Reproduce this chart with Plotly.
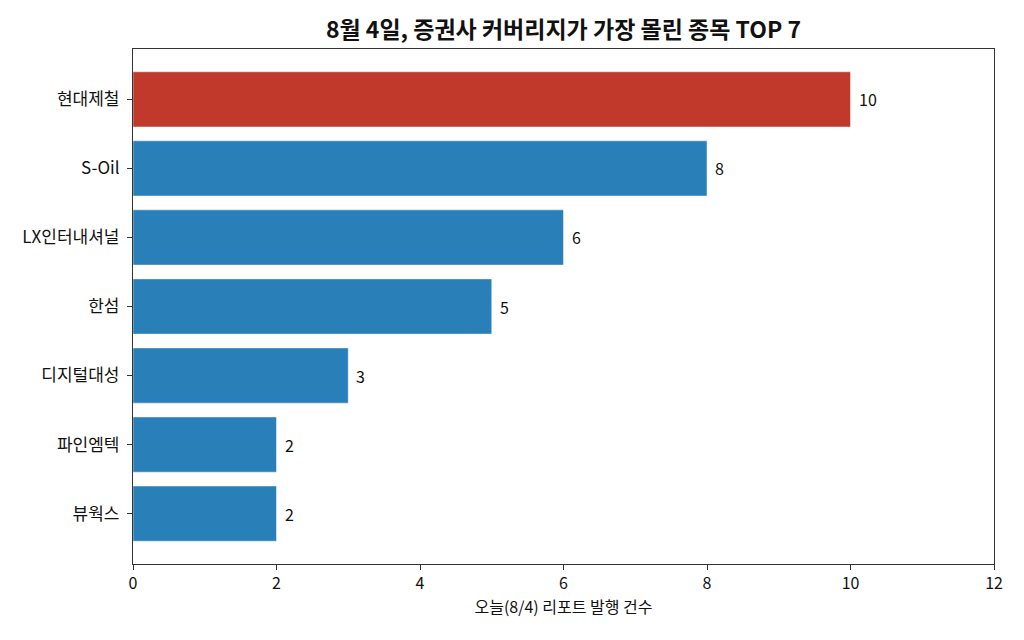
import plotly.graph_objects as go

# data
stocks = ['현대제철', 'S-Oil', 'LX인터내셔널', '한섬', '디지털대성', '파인엠텍', '뷰웍스']
counts = [10, 8, 6, 5, 3, 2, 2]
bar_colors = ['#c0392b'] + ['#2980b9'] * 6

fig = go.Figure()
fig.add_trace(go.Bar(
    y=list(range(len(stocks))), x=counts, orientation='h',
    width=0.8,
    marker=dict(color=bar_colors, line=dict(color='rgba(255,255,255,0.6)', width=0.8)),
    showlegend=False,
))

# value labels next to the bar ends
for i, c in enumerate(counts):
    fig.add_annotation(x=c, y=i, text=str(c), showarrow=False,
                       xanchor='left', yanchor='middle', xshift=6,
                       font=dict(size=16, color='#111'))

fig.update_layout(
    width=1024, height=640,
    margin=dict(l=125, r=38, t=41, b=84),
    paper_bgcolor='white', plot_bgcolor='white',
    font=dict(family='Noto Sans CJK KR', size=16, color='#111'),
    title=dict(text='<b>8월 4일, 증권사 커버리지가 가장 몰린 종목 TOP 7</b>',
               x=0.5, xref='paper', xanchor='center', y=0.966, yanchor='middle',
               font=dict(size=23, color='#111')),
)

fig.update_xaxes(
    range=[0, 12], tickvals=[0, 2, 4, 6, 8, 10, 12],
    showgrid=False, zeroline=False,
    showline=True, linecolor='#333', linewidth=1.2, mirror=True,
    ticks='outside', ticklen=5, tickcolor='#333',
    tickfont=dict(size=16),
    title=dict(text='오늘(8/4) 리포트 발행 건수', font=dict(size=16), standoff=6),
)
fig.update_yaxes(
    range=[6.73, -0.73], tickvals=list(range(len(stocks))), ticktext=stocks,
    showgrid=False, zeroline=False,
    showline=True, linecolor='#333', linewidth=1.2, mirror=True,
    ticks='outside', ticklen=5, tickcolor='#333', ticklabelstandoff=4,
    tickfont=dict(size=17),
)

fig.write_html("out.html")
